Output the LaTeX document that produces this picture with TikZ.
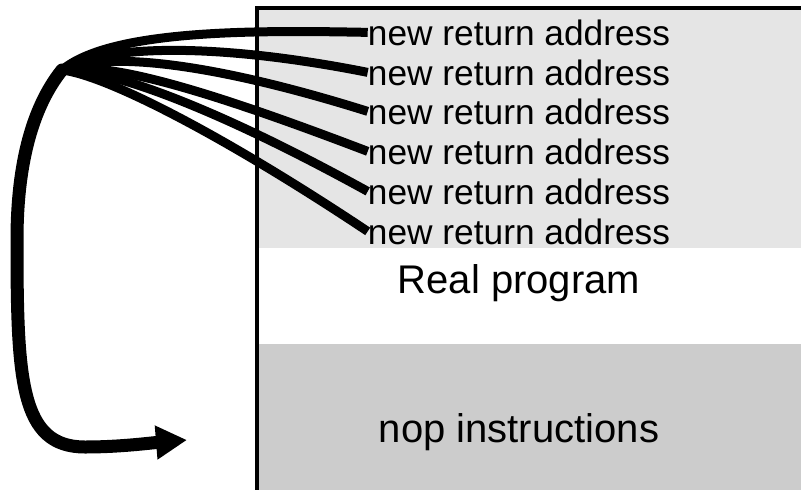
\documentclass[tikz,border=0pt]{standalone}
\usepackage{fontspec}
\setmainfont{Liberation Sans}
\usetikzlibrary{arrows.meta}
\definecolor{retfill}{RGB}{229,229,229}
\definecolor{nopfill}{RGB}{204,204,204}
\tikzset{
  addr/.style={anchor=base, inner sep=0pt, font=\fontsize{35.3}{40}\selectfont},
  big/.style={anchor=base, inner sep=0pt, font=\fontsize{40}{46}\selectfont},
  fanline/.style={line width=9pt},
  trunkline/.style={line width=13pt, line cap=round, -{Triangle[length=31pt,width=32pt]}},
  boxedge/.style={line width=3.6pt}
}
\begin{document}
\begin{tikzpicture}[x=1pt,y=-1pt]
\useasboundingbox (0,0) rectangle (801,490);
% regions
\fill[retfill] (257,7) rectangle (801,248);
\fill[nopfill] (257,344) rectangle (801,490);
\draw[boxedge] (801,8) -- (257,8) -- (257,490);
% texts
\node[addr] (a1) at (519,45) {new return address};
\node[addr] (a2) at (519,85) {new return address};
\node[addr] (a3) at (519,124) {new return address};
\node[addr] (a4) at (519,164) {new return address};
\node[addr] (a5) at (519,204) {new return address};
\node[addr] (a6) at (519,244) {new return address};
\node[big] (rp) at (519,293) {Real program};
\node[big] (nop) at (519,442) {nop instructions};
% connectors
\coordinate (J) at (62,70);
\coordinate (tip) at (187,440);
\draw[trunkline] (J) .. controls (30,110) and (17,170) .. (17,240)
   .. controls (17,380) and (20,447) .. (85,447)
   .. controls (120,447) and (150,443) .. (tip);
\draw[fanline] (a1.west) .. controls (250,30) and (110,30) .. (J);
\draw[fanline] (a2.west) .. controls (230,45) and (110,42) .. (J);
\draw[fanline] (a3.west) .. controls (220,65) and (110,50) .. (J);
\draw[fanline] (a4.west) .. controls (220,95) and (110,60) .. (J);
\draw[fanline] (a5.west) .. controls (220,110) and (110,68) .. (J);
\draw[fanline] (a6.west) .. controls (220,133) and (105,75) .. (J);
\end{tikzpicture}
\end{document}
